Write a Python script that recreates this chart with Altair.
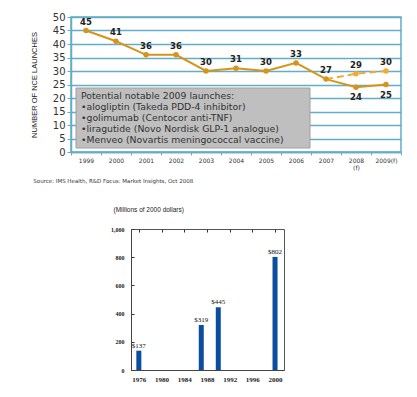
import altair as alt
import pandas as pd

# ---------- data: NCE launches ----------
years = ["1999", "2000", "2001", "2002", "2003", "2004", "2005", "2006",
         "2007", "2008 (f)", "2009(f)"]
launches = [45, 41, 36, 36, 30, 31, 30, 33, 27, 24, 25]
label_side = ["above"] * 9 + ["below"] * 2
fc_years = ["2007", "2008 (f)", "2009(f)"]
fc_launches = [27, 29, 30]
fc_labeled = [False, True, True]
y_ticks_top = [0, 5, 10, 15, 20, 25, 30, 35, 40, 45, 50]

notes = [
    "Potential notable 2009 launches:",
    "\u2022alogliptin (Takeda PDD-4 inhibitor)",
    "\u2022golimumab (Centocor anti-TNF)",
    "\u2022liragutide (Novo Nordisk GLP-1 analogue)",
    "\u2022Menveo (Novartis meningococcal vaccine)",
]
source = "Source: IMS Health, R&D Focus: Market Insights, Oct 2008"

# ---------- data: cost chart ----------
cost_years = [1976, 1987, 1990, 2000]
cost_values = [137, 319, 445, 802]
cost_labels = ["$137", "$319", "$445", "$802"]
x_ticks_bottom = [1976, 1980, 1984, 1988, 1992, 1996, 2000]
y_ticks_bottom = [0, 200, 400, 600, 800, 1000]
cost_title = "(Millions of 2000 dollars)"

TEAL = "#62adc7"
ORANGE = "#d8931b"
ORANGE_LIGHT = "#efab34"
BLUE = "#0b4d9f"
FONT = "DejaVu Sans"

main = pd.DataFrame({"year": years, "n": launches, "side": label_side})
fc = pd.DataFrame({"year": fc_years, "n": fc_launches, "lab": fc_labeled})
one = pd.DataFrame({"k": [0]})

xenc = alt.X(
    "year:N", sort=years,
    scale=alt.Scale(type="band", domain=years, paddingInner=0, paddingOuter=0),
    axis=alt.Axis(title=None, labelAngle=0, labelFontSize=6, labelFont=FONT,
                  labelColor="#333",
                  labelExpr="datum.value == '2008 (f)' ? ['2008', '(f)'] : datum.value",
                  labelLineHeight=7, tickBand="extent", tickSize=3,
                  tickColor=TEAL, domainColor=TEAL, domainWidth=1.5,
                  labelPadding=2, grid=False),
)
yenc = alt.Y(
    "n:Q", scale=alt.Scale(domain=[0, 50], nice=False),
    axis=alt.Axis(title="NUMBER OF NCE LAUNCHES", values=y_ticks_top,
                  titleFont="Liberation Sans", titleFontSize=7.5,
                  titleFontWeight="normal", titleColor="#222", titlePadding=14,
                  labelFont=FONT, labelFontSize=10, labelColor="#333",
                  tickColor=TEAL, tickSize=4, domainColor=TEAL, domainWidth=1.5,
                  gridColor=TEAL, gridWidth=1.3, labelPadding=2),
)

box = alt.Chart(one).mark_rect(fill="#bfbfbf", stroke="#a0a0a0", strokeWidth=1).encode(
    x=alt.value(5), x2=alt.value(239), y=alt.value(71), y2=alt.value(131)
)
note_text = alt.Chart(one).mark_text(
    text=notes, align="left", baseline="top", font=FONT, fontSize=9.3,
    lineHeight=11, color="#333"
).encode(x=alt.value(10), y=alt.value(74.5))

line_main = alt.Chart(main).mark_line(color=ORANGE, strokeWidth=2).encode(x=xenc, y=yenc)
pts_main = alt.Chart(main).mark_circle(color=ORANGE, size=30, opacity=1).encode(x=xenc, y=yenc)
line_fc = alt.Chart(fc).mark_line(color=ORANGE_LIGHT, strokeWidth=2, strokeDash=[7, 4]).encode(x=xenc, y=yenc)
pts_fc = alt.Chart(fc).transform_filter("datum.lab").mark_circle(
    color=ORANGE_LIGHT, size=30, opacity=1).encode(x=xenc, y=yenc)

lab_above = alt.Chart(main).transform_filter("datum.side == 'above'").mark_text(
    dy=-9, font=FONT, fontSize=8.5, fontWeight="bold", color="#222"
).encode(x=xenc, y=yenc, text="n:Q")
lab_below = alt.Chart(main).transform_filter("datum.side == 'below'").mark_text(
    dy=10, font=FONT, fontSize=8.5, fontWeight="bold", color="#222"
).encode(x=xenc, y=yenc, text="n:Q")
lab_fc = alt.Chart(fc).transform_filter("datum.lab").mark_text(
    dy=-9, font=FONT, fontSize=8.5, fontWeight="bold", color="#222"
).encode(x=xenc, y=yenc, text="n:Q")

top = alt.layer(
    box, note_text, line_main, line_fc, pts_main, pts_fc, lab_above, lab_below, lab_fc
).properties(
    width=330, height=135,
    view=alt.ViewBackground(stroke=TEAL, strokeWidth=1.5),
    title=alt.TitleParams(source, orient="bottom", anchor="start", frame="bounds",
                          fontSize=5.5, font=FONT, fontWeight="normal",
                          color="#333", offset=9, dx=3),
)

# ---------- bottom chart ----------
cost = pd.DataFrame({"year": cost_years, "v": cost_values, "lab": cost_labels})
bx = alt.X(
    "year:Q", scale=alt.Scale(domain=[1975.5, 2000.7], nice=False, zero=False),
    axis=alt.Axis(title=None, values=x_ticks_bottom,
                  labelExpr="format(datum.value, 'd')",
                  labelFont="Liberation Serif", labelFontSize=7,
                  labelFontWeight="bold", labelColor="#222", ticks=False,
                  grid=True, gridDash=[3, 1000], gridColor="#333",
                  domainColor="#444", labelPadding=5),
)
by = alt.Y(
    "v:Q", scale=alt.Scale(domain=[0, 1000], nice=False),
    axis=alt.Axis(title=None, values=y_ticks_bottom,
                  labelExpr="format(datum.value, ',')",
                  labelFont="Liberation Serif", labelFontSize=6,
                  labelFontWeight="bold", labelColor="#222", ticks=False,
                  grid=True, gridDash=[3, 1000], gridColor="#333",
                  domainColor="#444", labelPadding=7),
)
bars = alt.Chart(cost).mark_bar(size=5, color=BLUE).encode(x=bx, y=by)
bar_text = alt.Chart(cost).mark_text(
    dy=-5, font="Liberation Serif", fontSize=7, color="#111"
).encode(x=bx, y=by, text="lab:N")

bottom = alt.layer(bars, bar_text).properties(
    width=153, height=141,
    view=alt.ViewBackground(stroke="#555", strokeWidth=1),
    title=alt.TitleParams(cost_title, anchor="start", font="Liberation Sans",
                          fontSize=6.5, fontWeight="normal", color="#222",
                          offset=13, dx=3),
)

spacer = alt.Chart(one).mark_text(text=" ").encode(
    x=alt.value(0), y=alt.value(0)
).properties(width=38, height=10, view=alt.ViewBackground(stroke="transparent"))

chart = alt.vconcat(
    top, alt.hconcat(spacer, bottom, spacing=0), spacing=20
).properties(padding={"left": 21, "top": 3, "right": 0, "bottom": 0})

chart.save("out.html", embed_options={"renderer": "svg", "actions": False})
